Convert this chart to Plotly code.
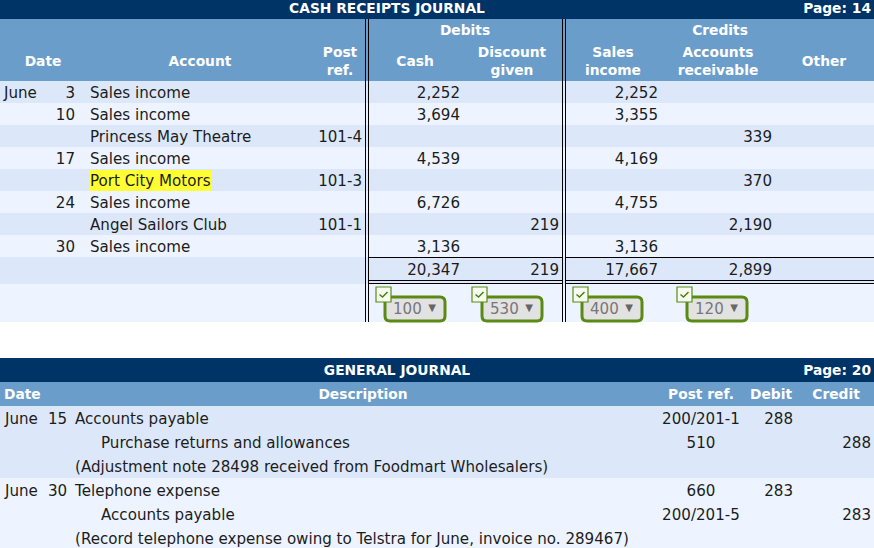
import plotly.graph_objects as go

# cash receipts journal
months = ["June", "", "", "", "", "", "", ""]
days = ["3", "10", "", "17", "", "24", "", "30"]
accounts = ["Sales income", "Sales income", "Princess May Theatre", "Sales income",
            "Port City Motors", "Sales income", "Angel Sailors Club", "Sales income"]
post_refs = ["", "", "101-4", "", "101-3", "", "101-1", ""]
cash = ["2,252", "3,694", "", "4,539", "", "6,726", "", "3,136"]
discount = ["", "", "", "", "", "", "219", ""]
sales = ["2,252", "3,355", "", "4,169", "", "4,755", "", "3,136"]
receivable = ["", "", "339", "", "370", "", "2,190", ""]
totals = ["20,347", "219", "17,667", "2,899"]
ledger_codes = ["100", "530", "400", "120"]

# general journal
gj_months = ["June", "", "", "June", "", ""]
gj_days = ["15", "", "", "30", "", ""]
gj_desc = ["Accounts payable", "Purchase returns and allowances",
           "(Adjustment note 28498 received from Foodmart Wholesalers)",
           "Telephone expense", "Accounts payable",
           "(Record telephone expense owing to Telstra for June, invoice no. 289467)"]
gj_indent = [0, 1, 0, 0, 1, 0]
gj_refs = ["200/201-1", "510", "", "660", "200/201-5", ""]
gj_debit = ["288", "", "", "283", "", ""]
gj_credit = ["", "288", "", "", "283", ""]

NAVY = "#003366"
HEAD = "#6b9dcb"
DARK_ROW = "#dce8f9"
LIGHT_ROW = "#edf4ff"
BODY_FONT = "DejaVu Sans"
BODY_SIZE = 15.1
HEAD_SIZE = 13.8
LEFT, RIGHT, CENTER = "middle right", "middle left", "middle center"
HEAD_NUDGE = 1.5
BODY_NUDGE = 2.3

fig = go.Figure()
shapes = []


def rect(x0, y0, x1, y1, color):
    shapes.append(dict(type="rect", x0=x0, y0=y0, x1=x1, y1=y1, fillcolor=color,
                       line_width=0, layer="below"))


def line(x0, y0, x1, y1, color="#000000", width=1):
    shapes.append(dict(type="line", x0=x0, y0=y0, x1=x1, y1=y1,
                       line=dict(color=color, width=width)))


# pos names say how the text is anchored: LEFT starts at x, RIGHT ends at x
def texts(xs, ys, labels, pos=LEFT, bold=False, color="#1c1c1c", size=None):
    keep = [i for i, t in enumerate(labels) if t]
    nudge = HEAD_NUDGE if bold else BODY_NUDGE
    fig.add_trace(go.Scatter(
        x=[xs[i] if isinstance(xs, list) else xs for i in keep],
        y=[(ys[i] if isinstance(ys, list) else ys) + nudge for i in keep],
        text=[labels[i] for i in keep],
        mode="text", textposition=pos, cliponaxis=False,
        hoverinfo="skip", showlegend=False,
        textfont=dict(family=BODY_FONT, color=color,
                      size=size or (HEAD_SIZE if bold else BODY_SIZE),
                      weight="bold" if bold else "normal"),
    ))


# --- cash receipts journal
rect(0, 0, 874, 19, NAVY)
rect(0, 19, 874, 81, HEAD)
row_y = [92 + 22 * i for i in range(len(accounts))]
for i, y in enumerate(row_y):
    rect(0, y - 11, 874, y + 11, DARK_ROW if i % 2 == 0 else LIGHT_ROW)
rect(0, 257, 874, 284, DARK_ROW)
rect(0, 284, 874, 322, LIGHT_ROW)

for x in (365.5, 368.5, 562.5, 565.5):
    line(x, 19, x, 322)
for x0, x1 in ((368.5, 562.5), (565.5, 874)):
    line(x0, 257.5, x1, 257.5)
    line(x0, 280.5, x1, 280.5)
    line(x0, 283.5, x1, 283.5)

rect(90, 170, 211, 191, "#ffff33")

texts(387, 8, ["CASH RECEIPTS JOURNAL"], CENTER, True, "white")
texts(871, 8, ["Page: 14"], RIGHT, True, "white")
head_x = [43, 200, 340, 415, 512, 613, 718, 824]
head_labels = ["Date", "Account", "Post<br>ref.", "Cash", "Discount<br>given",
               "Sales<br>income", "Accounts<br>receivable", "Other"]
texts(head_x, 61, head_labels, CENTER, True, "white")
texts([465, 720], 30, ["Debits", "Credits"], CENTER, True, "white")

texts(4, row_y, months)
texts(75, row_y, days, RIGHT)
texts(90, row_y, accounts)
texts(362, row_y, post_refs, RIGHT)
for right, col in ((460, cash), (559, discount), (658, sales), (772, receivable)):
    texts(right, row_y, col, RIGHT)
texts([460, 559, 658, 772], 269, totals, RIGHT)

# ledger code dropdowns with their ticks
box_x = [385, 482, 582, 687]
tick_x = [376, 472, 573, 677]
for code, bx, tx in zip(ledger_codes, box_x, tick_x):
    x1 = bx + 60
    r = 5
    shapes.append(dict(
        type="path", layer="below",
        path=f"M{bx + r},297 L{x1 - r},297 Q{x1},297 {x1},{297 + r} L{x1},{321 - r} "
             f"Q{x1},321 {x1 - r},321 L{bx + r},321 Q{bx},321 {bx},{321 - r} "
             f"L{bx},{297 + r} Q{bx},297 {bx + r},297 Z",
        fillcolor="#e2e2e2", line=dict(color="#5a8a14", width=3)))
    shapes.append(dict(type="rect", x0=tx, y0=287, x1=tx + 15, y1=302,
                       fillcolor="#f6fbf0", line=dict(color="#5a8a14", width=1.2)))
    shapes.append(dict(type="path",
                       path=f"M{tx + 3.5},{294.5} L{tx + 6.5},{297} L{tx + 11.5},{292}",
                       line=dict(color="#4d7d10", width=1.5)))
    texts(bx + 8, 308, [code], LEFT, color="#777777")
    texts(bx + 47, 306.5, ["▼"], CENTER, color="#666666", size=10)

# --- general journal
rect(0, 358, 874, 382, NAVY)
rect(0, 382, 874, 406, HEAD)
gj_y = [418 + 24 * i for i in range(len(gj_desc))]
for i, y in enumerate(gj_y):
    rect(0, y - 12, 874, y + 12, DARK_ROW if i < 3 else LIGHT_ROW)

texts(397, 370, ["GENERAL JOURNAL"], CENTER, True, "white")
texts(871, 370, ["Page: 20"], RIGHT, True, "white")
texts(4, 394, ["Date"], LEFT, True, "white")
texts([363, 701, 771, 836], 394, ["Description", "Post ref.", "Debit", "Credit"],
      CENTER, True, "white")

texts(5, gj_y, gj_months)
texts(48, gj_y, gj_days)
texts([101 if k else 75 for k in gj_indent], gj_y, gj_desc)
texts(701, gj_y, gj_refs, CENTER)
texts(793, gj_y, gj_debit, RIGHT)
texts(871, gj_y, gj_credit, RIGHT)

fig.update_layout(
    width=874, height=548, margin=dict(l=0, r=0, t=0, b=0),
    paper_bgcolor="white", plot_bgcolor="white", shapes=shapes, showlegend=False,
    xaxis=dict(range=[0, 874], visible=False, fixedrange=True),
    yaxis=dict(range=[548, 0], visible=False, fixedrange=True),
)
fig.write_html("out.html", config={"displayModeBar": False},
               post_script="document.body.style.margin='0';document.body.style.overflow='hidden';")
